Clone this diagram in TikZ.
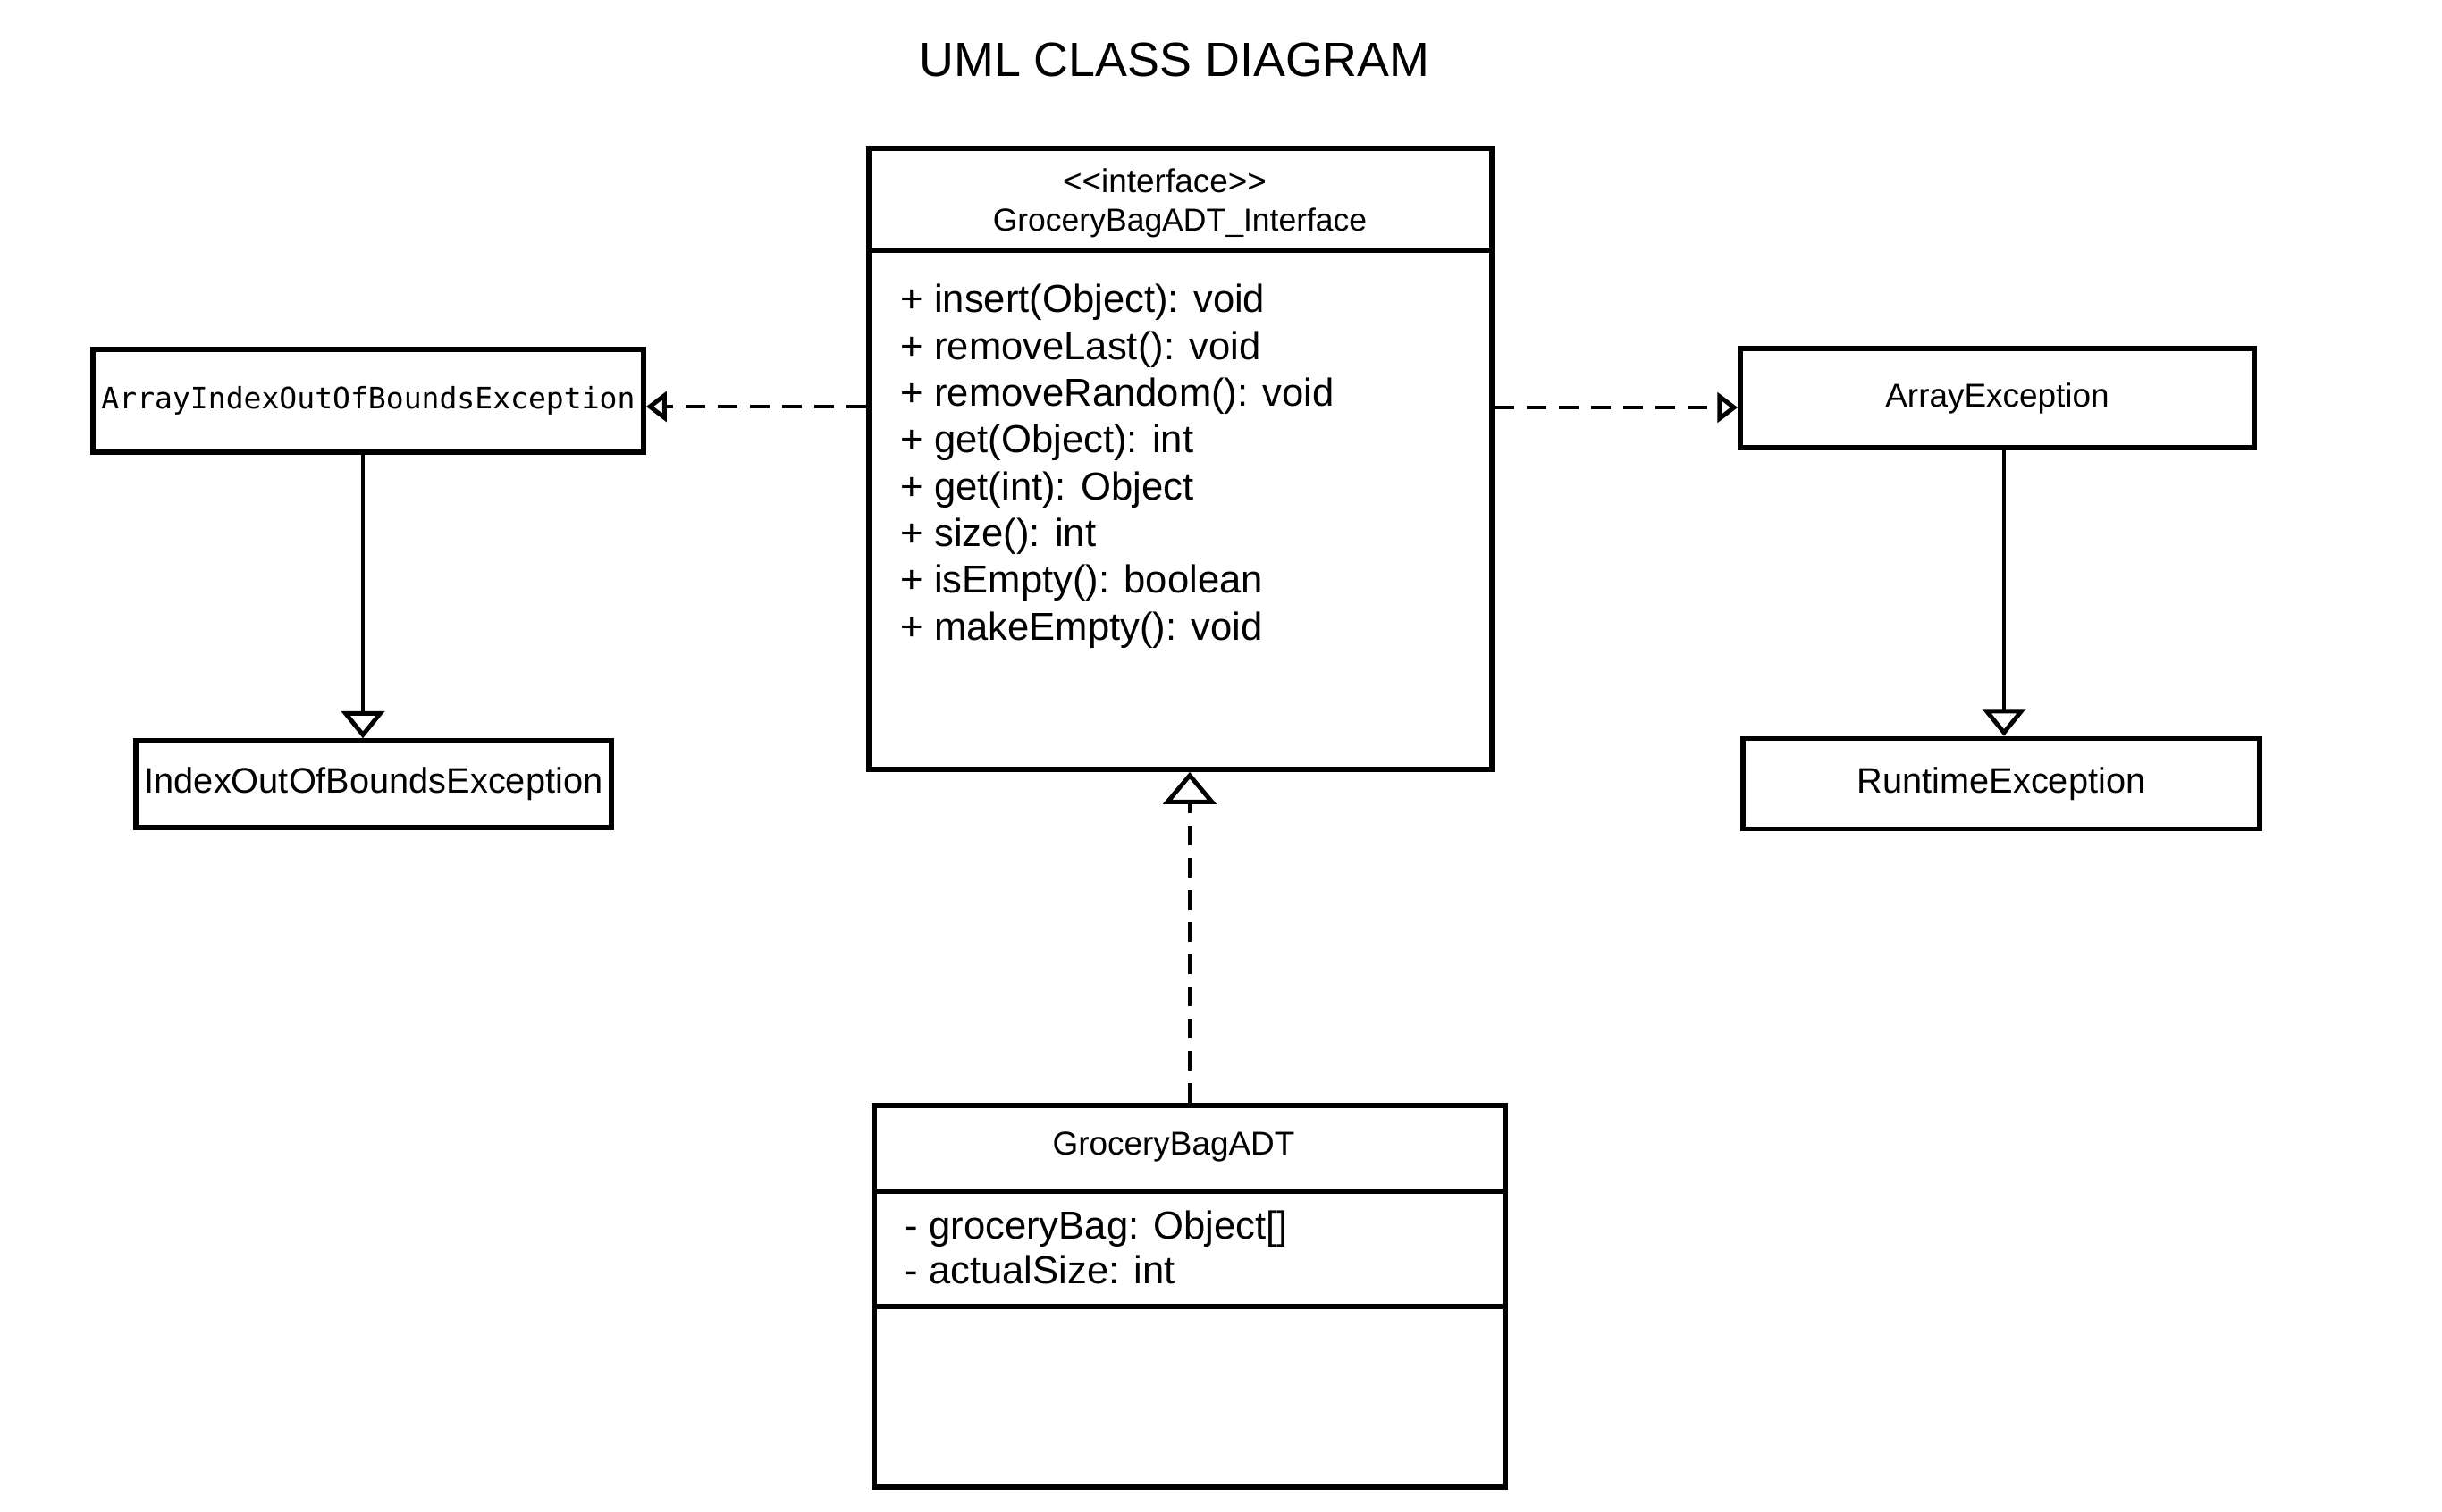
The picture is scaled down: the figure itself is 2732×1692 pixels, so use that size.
\documentclass[tikz,border=0pt]{standalone}
\usepackage{fontspec}
\setmainfont{Liberation Sans}
\newfontfamily\monofont{DejaVu Sans Mono}
\usetikzlibrary{arrows.meta}
\begin{document}
\begin{tikzpicture}[x=0.01cm, y=-0.01cm,
  box/.style={draw, line width=1.55pt, rectangle, inner sep=0pt},
  sepline/.style={line width=1.55pt},
  conn/.style={line width=1.4pt},
  dep/.style={conn, dash pattern=on 0.22cm off 0.14cm},
  gentip/.style={-{Triangle[open, width=13.6pt, length=8.6pt]}},
  biggentip/.style={-{Triangle[open, width=16.8pt, length=10.2pt]}},
  smalltip/.style={-{Triangle[open, width=9.5pt, length=6.5pt]}},
  hdr/.style={font=\fontsize{10.5}{12.5}\selectfont},
  memb/.style={font=\fontsize{12.4}{14.9}\selectfont, anchor=base west, inner sep=0pt},
  exc/.style={font=\fontsize{11.3}{13}\selectfont}]
\fill[white] (0,0) rectangle (2732,1692);
\useasboundingbox (0,0) rectangle (2732,1692);

% title
\node[font=\fontsize{15.3}{18}\selectfont, anchor=base] (title) at (1314,86) {UML CLASS DIAGRAM};

% interface
\node[box, minimum width=6.97cm, minimum height=6.95cm] (iface) at (1320.5,513.5) {};
\coordinate (s1) at (0,280);
\draw[sepline] (iface.west |- s1) -- (iface.east |- s1);
\node[hdr, anchor=base] (stereo) at (1303,216) {<{}<interface>{}>};
\node[font=\fontsize{10.1}{12}\selectfont, anchor=base] (ifname) at (1320,259) {GroceryBagADT\_Interface};
\foreach \t [count=\i from 0] in {{+ insert(Object): void},{+ removeLast(): void},{+ removeRandom(): void},{+ get(Object): int},{+ get(int): Object},{+ size(): int},{+ isEmpty(): boolean},{+ makeEmpty(): void}}
  \node[memb] (m\i) at (1007,{350+52.3*\i}) {\t};

% exceptions
\node[box, minimum width=6.16cm, minimum height=1.15cm, font=\monofont\fontsize{9.4}{11}\selectfont] (aioobe) at (412,448.5) {ArrayIndexOutOfBoundsException};
\node[box, exc, minimum width=5.32cm, minimum height=0.97cm] (ioobe) at (418,877.5) {IndexOutOfBoundsException};
\node[box, font=\fontsize{10.5}{12.5}\selectfont, minimum width=5.75cm, minimum height=1.11cm] (arrex) at (2234.5,445.5) {ArrayException};
\node[box, exc, minimum width=5.78cm, minimum height=1.01cm] (rtex) at (2239,877) {RuntimeException};

% concrete class
\node[box, minimum width=7.06cm, minimum height=4.27cm] (gbag) at (1331,1450.5) {};
\coordinate (s2) at (0,1333);
\coordinate (s3) at (0,1462);
\draw[sepline] (gbag.west |- s2) -- (gbag.east |- s2);
\draw[sepline] (gbag.west |- s3) -- (gbag.east |- s3);
\node[hdr, anchor=base] (gname) at (1313,1293) {GroceryBagADT};
\node[memb] (f1) at (1012,1387) {- groceryBag: Object[]};
\node[memb] (f2) at (1012,1437) {- actualSize: int};

% connectors
\path ([yshift=-0.065cm]aioobe.east) coordinate (aE);
\path ([yshift=-0.105cm]arrex.west) coordinate (rW);
\path ([xshift=-0.06cm]aioobe.south) coordinate (aS);
\path ([xshift=0.075cm]arrex.south) coordinate (rS);
\draw[dep, smalltip] (iface.west |- aE) -- (aE);
\draw[dep, smalltip] (iface.east |- rW) -- (rW);
\draw[conn, gentip] (aS) -- (aS |- ioobe.north);
\draw[conn, gentip] (rS) -- (rS |- rtex.north);
\draw[dep, biggentip] (gbag.north) -- (gbag.north |- iface.south);
\end{tikzpicture}
\end{document}
